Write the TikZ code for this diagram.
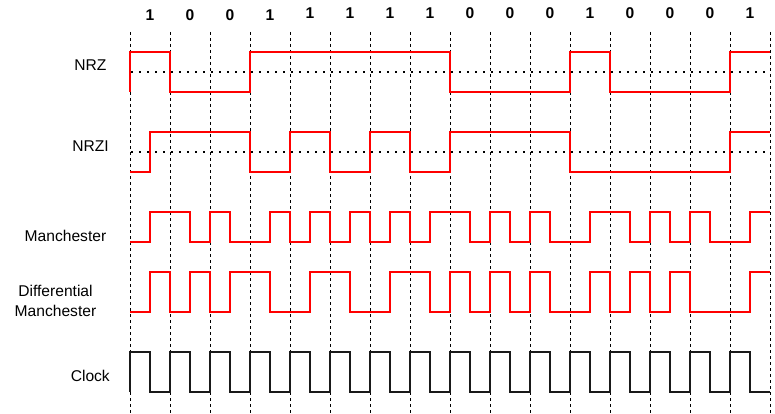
\documentclass[tikz,border=0pt]{standalone}
\usepackage{fontspec}
\setmainfont{Liberation Sans}
\begin{document}
\begin{tikzpicture}[x=1pt,y=-1pt,
  lbl/.style={font=\fontsize{15.6}{20}\selectfont, inner sep=0pt, anchor=base},
  bitlbl/.style={font=\fontsize{15.6}{18}\selectfont\bfseries, inner sep=0pt, anchor=base},
  gridline/.style={black, line width=1pt, dash pattern=on 3pt off 3pt},
  midline/.style={black, line width=2pt, dash pattern=on 2pt off 6pt},
  sig/.style={red, line width=2pt, line join=miter},
  clk/.style={black!90, line width=2pt, line join=miter}]
\useasboundingbox (0,0) rectangle (775,414);

% vertical bit boundaries
\foreach \i in {0,...,16} {
  \draw[gridline] ({130+40*\i},32) -- ({130+40*\i},414);
}

% bit labels
\foreach \b [count=\i from 0] in {1,0,0,1} {
  \node[bitlbl] (b\i) at ({150+40*\i},21) {\b};
}
\foreach \b [count=\i from 4] in {1,1,1,1,0,0,0,1,0,0,0,1} {
  \node[bitlbl] (b\i) at ({150+40*\i},19) {\b};
}

% row labels
\node[lbl] (nrz) at (90.5,71) {NRZ};
\node[lbl] (nrzi) at (90.5,151) {NRZI};
\node[lbl] (man) at (65.5,241) {Manchester};
\node[lbl] (dman1) at (55.5,296) {Differential};
\node[lbl] (dman2) at (55.5,316) {Manchester};
\node[lbl] (clock) at (90.3,381) {Clock};

% dotted mid lines
\draw[midline] (131,72) -- (770,72);
\draw[midline] (131,152) -- (770,152);

% NRZ
\draw[sig] (130,92) -- (130,52) -- (170,52) -- (170,92) -- (250,92) -- (250,52)
  -- (450,52) -- (450,92) -- (570,92) -- (570,52) -- (610,52) -- (610,92)
  -- (730,92) -- (730,52) -- (770,52);

% NRZI
\draw[sig] (130,172) -- (150,172) -- (150,132) -- (250,132) -- (250,172)
  -- (290,172) -- (290,132) -- (330,132) -- (330,172) -- (370,172) -- (370,132)
  -- (410,132) -- (410,172) -- (450,172) -- (450,132) -- (570,132) -- (570,172)
  -- (730,172) -- (730,132) -- (770,132);

% Manchester
\draw[sig] (130,242) -- (150,242) -- (150,212) -- (190,212) -- (190,242)
  -- (210,242) -- (210,212) -- (230,212) -- (230,242) -- (270,242) -- (270,212)
  -- (290,212) -- (290,242) -- (310,242) -- (310,212) -- (330,212) -- (330,242)
  -- (350,242) -- (350,212) -- (370,212) -- (370,242) -- (390,242) -- (390,212)
  -- (410,212) -- (410,242) -- (430,242) -- (430,212) -- (470,212) -- (470,242)
  -- (490,242) -- (490,212) -- (510,212) -- (510,242) -- (530,242) -- (530,212)
  -- (550,212) -- (550,242) -- (590,242) -- (590,212) -- (630,212) -- (630,242)
  -- (650,242) -- (650,212) -- (670,212) -- (670,242) -- (690,242) -- (690,212)
  -- (710,212) -- (710,242) -- (750,242) -- (750,212) -- (770,212);

% Differential Manchester
\draw[sig] (130,312) -- (150,312) -- (150,272) -- (170,272) -- (170,312)
  -- (190,312) -- (190,272) -- (210,272) -- (210,312) -- (230,312) -- (230,272)
  -- (270,272) -- (270,312) -- (310,312) -- (310,272) -- (350,272) -- (350,312)
  -- (390,312) -- (390,272) -- (430,272) -- (430,312) -- (450,312) -- (450,272)
  -- (470,272) -- (470,312) -- (490,312) -- (490,272) -- (510,272) -- (510,312)
  -- (530,312) -- (530,272) -- (550,272) -- (550,312) -- (590,312) -- (590,272)
  -- (610,272) -- (610,312) -- (630,312) -- (630,272) -- (650,272) -- (650,312)
  -- (670,312) -- (670,272) -- (690,272) -- (690,312) -- (750,312) -- (750,272)
  -- (770,272);

% Clock
\draw[clk] (130,392) foreach \i in {0,...,15} {
  -- ({130+40*\i},352) -- ({150+40*\i},352) -- ({150+40*\i},392) -- ({170+40*\i},392)
};
\end{tikzpicture}
\end{document}
